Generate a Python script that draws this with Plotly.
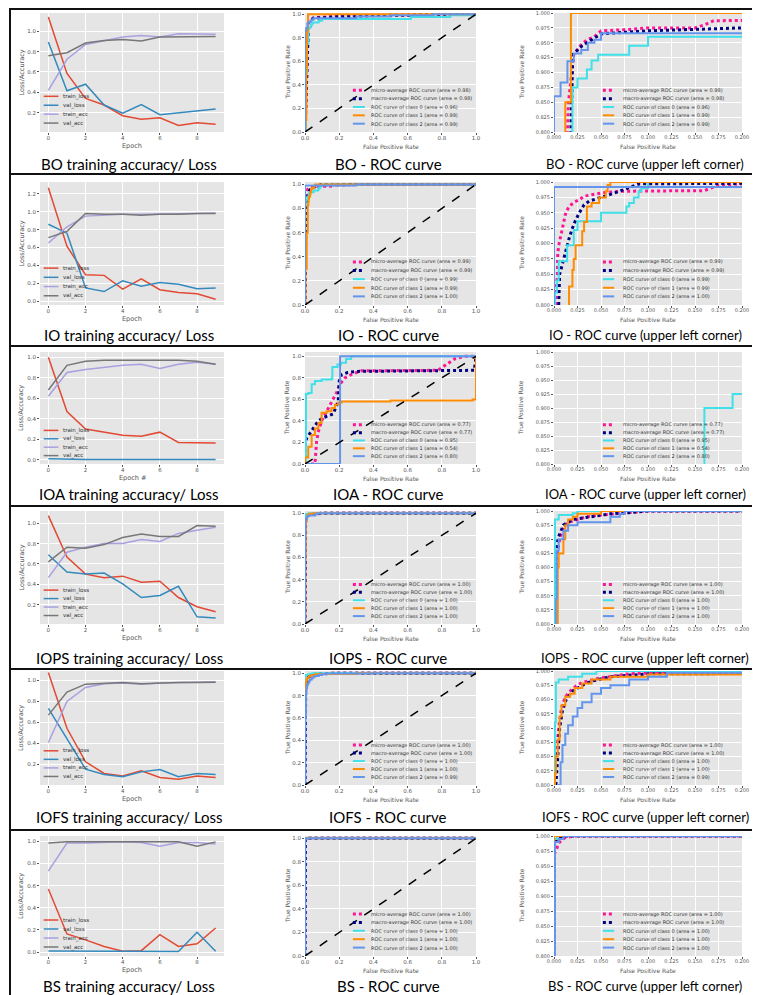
import plotly.graph_objects as go

W, H = 760, 995

# ---------------- data: training history ----------------
datasets = ["BO", "IO", "IOA", "IOPS", "IOFS", "BS"]
epochs = [0, 1, 2, 3, 4, 5, 6, 7, 8, 9]
epoch_ticks = [0, 2, 4, 6, 8]
history_names = ["train_loss", "val_loss", "train_acc", "val_acc"]
epoch_titles = ["Epoch", "Epoch", "Epoch #", "Epoch", "Epoch", "Epoch"]

bo_train_loss = [1.14, 0.585, 0.34, 0.275, 0.17, 0.135, 0.15, 0.075, 0.10, 0.085]
bo_val_loss = [0.895, 0.415, 0.48, 0.275, 0.195, 0.28, 0.18, 0.20, 0.215, 0.235]
bo_train_acc = [0.42, 0.725, 0.87, 0.91, 0.945, 0.96, 0.945, 0.975, 0.97, 0.97]
bo_val_acc = [0.76, 0.79, 0.885, 0.91, 0.92, 0.905, 0.945, 0.945, 0.945, 0.95]

io_train_loss = [1.267, 0.614, 0.297, 0.29, 0.137, 0.25, 0.13, 0.10, 0.085, 0.025]
io_val_loss = [0.86, 0.76, 0.15, 0.11, 0.23, 0.17, 0.21, 0.19, 0.14, 0.15]
io_train_acc = [0.65, 0.83, 0.95, 0.96, 0.97, 0.97, 0.97, 0.975, 0.98, 0.985]
io_val_acc = [0.71, 0.78, 0.98, 0.97, 0.97, 0.96, 0.97, 0.97, 0.98, 0.98]

ioa_train_loss = [1.0, 0.47, 0.30, 0.27, 0.24, 0.23, 0.27, 0.17, 0.17, 0.165]
ioa_val_loss = [0.01, 0.005, 0.005, 0.005, 0.005, 0.005, 0.005, 0.005, 0.005, 0.005]
ioa_train_acc = [0.62, 0.85, 0.88, 0.90, 0.92, 0.93, 0.89, 0.93, 0.95, 0.93]
ioa_val_acc = [0.68, 0.92, 0.96, 0.97, 0.97, 0.97, 0.97, 0.97, 0.96, 0.93]

iops_train_loss = [1.075, 0.667, 0.50, 0.465, 0.48, 0.42, 0.43, 0.27, 0.18, 0.13]
iops_val_loss = [0.69, 0.52, 0.50, 0.51, 0.405, 0.27, 0.29, 0.38, 0.08, 0.07]
iops_train_acc = [0.465, 0.715, 0.765, 0.80, 0.80, 0.84, 0.82, 0.90, 0.93, 0.96]
iops_val_acc = [0.62, 0.765, 0.755, 0.79, 0.86, 0.895, 0.87, 0.87, 0.977, 0.97]

iofs_train_loss = [1.076, 0.545, 0.226, 0.115, 0.09, 0.14, 0.076, 0.06, 0.09, 0.076]
iofs_val_loss = [0.735, 0.45, 0.156, 0.105, 0.083, 0.13, 0.153, 0.083, 0.115, 0.105]
iofs_train_acc = [0.41, 0.80, 0.933, 0.968, 0.975, 0.965, 0.975, 0.98, 0.984, 0.987]
iofs_val_acc = [0.67, 0.89, 0.965, 0.975, 0.98, 0.968, 0.975, 0.98, 0.98, 0.984]

bs_train_loss = [0.57, 0.163, 0.11, 0.05, 0.006, 0.012, 0.157, 0.05, 0.075, 0.217]
bs_val_loss = [0.01, 0.01, 0.005, 0.005, 0.005, 0.005, 0.005, 0.005, 0.178, 0.006]
bs_train_acc = [0.73, 0.985, 0.985, 0.99, 0.995, 0.99, 0.955, 0.99, 0.99, 0.975]
bs_val_acc = [0.985, 0.995, 0.995, 0.995, 0.995, 0.995, 0.995, 0.995, 0.955, 0.995]

# ---------------- data: ROC curves (fpr, tpr) ----------------
roc_names = ["micro-average ROC curve", "macro-average ROC curve",
             "ROC curve of class 0", "ROC curve of class 1", "ROC curve of class 2"]

bo_auc = [0.98, 0.98, 0.96, 0.99, 0.99]
bo_micro_fpr = [0, 0.005, 0.012, 0.0154, 0.017, 0.019, 0.021, 0.028, 0.035, 0.043, 0.05, 0.075, 0.1, 0.15, 0.16, 0.17, 0.4, 0.7, 1.0]
bo_micro_tpr = [0, 0.3, 0.7, 0.85, 0.875, 0.905, 0.93, 0.945, 0.955, 0.96, 0.97, 0.972, 0.975, 0.975, 0.98, 0.987, 0.99, 0.995, 1.0]
bo_macro_fpr = [0, 0.01, 0.018, 0.019, 0.02, 0.03, 0.04, 0.05, 0.1, 0.15, 0.2, 0.5, 1.0]
bo_macro_tpr = [0, 0.4, 0.8, 0.87, 0.93, 0.945, 0.955, 0.965, 0.97, 0.975, 0.98, 0.99, 1.0]
bo_c0_fpr = [0, 0.005, 0.012, 0.0196, 0.025, 0.035, 0.04, 0.047, 0.08, 0.1, 0.62, 0.85, 1.0]
bo_c0_tpr = [0, 0.5, 0.75, 0.875, 0.89, 0.905, 0.92, 0.93, 0.945, 0.96, 0.975, 0.99, 1.0]
bo_c1_fpr = [0, 0.003, 0.008, 0.012, 0.018, 1.0]
bo_c1_tpr = [0, 0.1, 0.55, 0.85, 1.0, 1.0]
bo_c2_fpr = [0, 0, 0.007, 0.0143, 0.021, 0.029, 0.036, 0.043, 0.05, 0.3, 0.5, 0.75, 1.0]
bo_c2_tpr = [0, 0.86, 0.883, 0.919, 0.932, 0.938, 0.95, 0.955, 0.966, 0.98, 0.99, 1.0, 1.0]

io_auc = [0.99, 0.99, 0.99, 0.99, 1.00]
io_micro_fpr = [0, 0.001, 0.0018, 0.0025, 0.0036, 0.004, 0.005, 0.007, 0.009, 0.011, 0.0125, 0.016, 0.021, 0.027, 0.032, 0.05, 0.07, 0.16, 0.175, 0.2, 0.4, 1.0]
io_micro_tpr = [0, 0.7, 0.807, 0.826, 0.85, 0.883, 0.897, 0.911, 0.925, 0.938, 0.95, 0.96, 0.967, 0.971, 0.977, 0.982, 0.985, 0.986, 0.995, 0.997, 1.0, 1.0]
io_macro_fpr = [0, 0.002, 0.004, 0.005, 0.006, 0.009, 0.0125, 0.016, 0.0196, 0.023, 0.027, 0.032, 0.0375, 0.045, 0.054, 0.0625, 0.073, 0.084, 0.091, 0.5, 1.0]
io_macro_tpr = [0, 0.5, 0.78, 0.8, 0.85, 0.867, 0.889, 0.908, 0.925, 0.938, 0.95, 0.963, 0.969, 0.973, 0.977, 0.981, 0.987, 0.993, 0.997, 1.0, 1.0]
io_c0_fpr = [0, 0, 0.001, 0.003, 0.005, 0.014, 0.021, 0.025, 0.05, 0.077, 0.08, 0.085, 0.09, 0.093, 0.1, 1.0]
io_c0_tpr = [0, 0.6, 0.82, 0.84, 0.871, 0.897, 0.922, 0.936, 0.95, 0.96, 0.966, 0.975, 0.985, 0.99, 1.0, 1.0]
io_c1_fpr = [0, 0.003, 0.01, 0.016, 0.0196, 0.021, 0.023, 0.03, 0.032, 0.035, 0.04, 0.048, 0.055, 0.057, 0.06, 1.0]
io_c1_tpr = [0, 0.3, 0.6, 0.83, 0.857, 0.875, 0.897, 0.92, 0.935, 0.96, 0.966, 0.975, 0.985, 0.995, 1.0, 1.0]
io_c2_fpr = [0, 0, 0.3, 1.0]
io_c2_tpr = [0, 0.992, 1.0, 1.0]

ioa_auc = [0.77, 0.77, 0.95, 0.54, 0.80]
ioa_micro_fpr = [0, 0.058, 0.068, 0.078, 0.097, 0.117, 0.146, 0.165, 0.184, 0.204, 0.233, 0.27, 0.33, 0.777, 0.835, 0.874, 0.93, 1.0]
ioa_micro_tpr = [0, 0.0, 0.21, 0.30, 0.40, 0.46, 0.55, 0.60, 0.66, 0.74, 0.80, 0.83, 0.865, 0.87, 0.93, 0.975, 1.0, 1.0]
ioa_macro_fpr = [0, 0, 0.01, 0.03, 0.05, 0.078, 0.107, 0.136, 0.165, 0.194, 0.2, 0.214, 0.25, 0.31, 0.99, 1.0]
ioa_macro_tpr = [0, 0.18, 0.24, 0.29, 0.33, 0.40, 0.43, 0.45, 0.465, 0.58, 0.77, 0.83, 0.85, 0.86, 0.87, 1.0]
ioa_c0_fpr = [0, 0.005, 0.006, 0.019, 0.039, 0.058, 0.097, 0.155, 0.16, 0.19, 0.21, 0.24, 0.27, 1.0]
ioa_c0_tpr = [0, 0.33, 0.65, 0.66, 0.74, 0.77, 0.785, 0.795, 0.9, 0.925, 0.94, 0.975, 1.0, 1.0]
ioa_c1_fpr = [0, 0, 0.019, 0.039, 0.058, 0.078, 0.097, 0.126, 0.155, 0.175, 0.194, 0.214, 0.5, 0.98, 1.0]
ioa_c1_tpr = [0, 0.06, 0.16, 0.27, 0.33, 0.38, 0.475, 0.49, 0.52, 0.55, 0.57, 0.58, 0.59, 0.6, 1.0]
ioa_c2_fpr = [0, 0.2, 0.205, 1.0]
ioa_c2_tpr = [0, 0.0, 1.0, 1.0]

iops_auc = [1.00, 1.00, 1.00, 1.00, 1.00]
iops_micro_fpr = [0, 0, 0.001, 0.002, 0.004, 0.006, 0.008, 0.01, 0.015, 0.025, 0.035, 0.05, 0.07, 0.1, 1.0]
iops_micro_tpr = [0, 0.8, 0.87, 0.9, 0.93, 0.95, 0.96, 0.97, 0.98, 0.985, 0.99, 0.993, 0.996, 1.0, 1.0]
iops_macro_fpr = [0, 0, 0.001, 0.003, 0.005, 0.01, 0.02, 0.04, 0.06, 0.08, 0.1, 1.0]
iops_macro_tpr = [0, 0.8, 0.9, 0.94, 0.955, 0.975, 0.985, 0.99, 0.995, 0.997, 1.0, 1.0]
iops_c0_fpr = [0, 0, 0.001, 0.005, 0.02, 0.025, 1.0]
iops_c0_tpr = [0, 0.85, 0.985, 0.993, 0.996, 1.0, 1.0]
iops_c1_fpr = [0, 0.002, 0.004, 0.005, 0.01, 0.012, 0.015, 0.02, 0.025, 0.05, 1.0]
iops_c1_tpr = [0, 0.6, 0.9, 0.925, 0.95, 0.975, 0.985, 0.99, 0.995, 1.0, 1.0]
iops_c2_fpr = [0, 0.001, 0.002, 0.003, 0.005, 0.01, 0.015, 0.025, 0.06, 0.07, 0.075, 1.0]
iops_c2_tpr = [0, 0.6, 0.845, 0.93, 0.95, 0.965, 0.975, 0.98, 0.99, 0.995, 1.0, 1.0]

iofs_auc = [1.00, 1.00, 1.00, 1.00, 0.99]
iofs_micro_fpr = [0, 0, 0.001, 0.003, 0.005, 0.008, 0.012, 0.02, 0.03, 0.05, 0.08, 0.12, 0.2, 1.0]
iofs_micro_tpr = [0, 0.6, 0.82, 0.86, 0.9, 0.935, 0.955, 0.97, 0.98, 0.988, 0.995, 0.998, 1.0, 1.0]
iofs_macro_fpr = [0, 0.001, 0.002, 0.004, 0.006, 0.009, 0.013, 0.02, 0.03, 0.04, 0.06, 0.1, 0.15, 0.2, 1.0]
iofs_macro_tpr = [0, 0.6, 0.8, 0.85, 0.9, 0.93, 0.95, 0.965, 0.975, 0.982, 0.99, 0.995, 0.998, 1.0, 1.0]
iofs_c0_fpr = [0, 0, 0.001, 0.002, 0.005, 0.015, 0.03, 0.045, 1.0]
iofs_c0_tpr = [0, 0.7, 0.91, 0.98, 0.985, 0.99, 0.995, 1.0, 1.0]
iofs_c1_fpr = [0, 0, 0.001, 0.002, 0.004, 0.006, 0.008, 0.012, 0.017, 0.022, 0.03, 0.04, 0.06, 0.1, 0.3, 1.0]
iofs_c1_tpr = [0, 0.6, 0.82, 0.85, 0.88, 0.92, 0.94, 0.955, 0.96, 0.97, 0.978, 0.985, 0.99, 0.994, 1.0, 1.0]
iofs_c2_fpr = [0, 0.002, 0.005, 0.007, 0.009, 0.012, 0.015, 0.02, 0.025, 0.03, 0.04, 0.05, 0.06, 0.08, 0.1, 0.12, 0.4, 1.0]
iofs_c2_tpr = [0, 0.6, 0.8, 0.84, 0.87, 0.89, 0.905, 0.92, 0.935, 0.945, 0.96, 0.97, 0.975, 0.985, 0.99, 0.997, 1.0, 1.0]

bs_auc = [1.00, 1.00, 1.00, 1.00, 1.00]
bs_micro_fpr = [0, 0, 0.002, 0.003, 0.005, 0.008, 0.012, 0.02, 1.0]
bs_micro_tpr = [0, 0.97, 0.975, 0.98, 0.988, 0.993, 0.997, 1.0, 1.0]
bs_macro_fpr = [0, 0, 0.002, 0.006, 0.01, 1.0]
bs_macro_tpr = [0, 0.985, 0.99, 0.997, 1.0, 1.0]
bs_c0_fpr = [0, 0, 0.003, 1.0]
bs_c0_tpr = [0, 0.995, 1.0, 1.0]
bs_c1_fpr = [0, 0, 1.0]
bs_c1_tpr = [0, 1.0, 1.0]
bs_c2_fpr = [0, 0.001, 0.005, 0.01, 1.0]
bs_c2_tpr = [0, 0.99, 0.995, 1.0, 1.0]

chance_fpr = [0, 1]
chance_tpr = [0, 1]

# tick labels
full_ticks = [0.0, 0.2, 0.4, 0.6, 0.8, 1.0]
zoom_xticks = [0.0, 0.025, 0.05, 0.075, 0.1, 0.125, 0.15, 0.175, 0.2]
zoom_yticks = [0.8, 0.825, 0.85, 0.875, 0.9, 0.925, 0.95, 0.975, 1.0]
hist_yticks = [0.0, 0.2, 0.4, 0.6, 0.8, 1.0, 1.2]

histories = {
    "BO": [bo_train_loss, bo_val_loss, bo_train_acc, bo_val_acc],
    "IO": [io_train_loss, io_val_loss, io_train_acc, io_val_acc],
    "IOA": [ioa_train_loss, ioa_val_loss, ioa_train_acc, ioa_val_acc],
    "IOPS": [iops_train_loss, iops_val_loss, iops_train_acc, iops_val_acc],
    "IOFS": [iofs_train_loss, iofs_val_loss, iofs_train_acc, iofs_val_acc],
    "BS": [bs_train_loss, bs_val_loss, bs_train_acc, bs_val_acc],
}
rocs = {
    "BO": (bo_auc, [(bo_micro_fpr, bo_micro_tpr), (bo_macro_fpr, bo_macro_tpr), (bo_c0_fpr, bo_c0_tpr), (bo_c1_fpr, bo_c1_tpr), (bo_c2_fpr, bo_c2_tpr)]),
    "IO": (io_auc, [(io_micro_fpr, io_micro_tpr), (io_macro_fpr, io_macro_tpr), (io_c0_fpr, io_c0_tpr), (io_c1_fpr, io_c1_tpr), (io_c2_fpr, io_c2_tpr)]),
    "IOA": (ioa_auc, [(ioa_micro_fpr, ioa_micro_tpr), (ioa_macro_fpr, ioa_macro_tpr), (ioa_c0_fpr, ioa_c0_tpr), (ioa_c1_fpr, ioa_c1_tpr), (ioa_c2_fpr, ioa_c2_tpr)]),
    "IOPS": (iops_auc, [(iops_micro_fpr, iops_micro_tpr), (iops_macro_fpr, iops_macro_tpr), (iops_c0_fpr, iops_c0_tpr), (iops_c1_fpr, iops_c1_tpr), (iops_c2_fpr, iops_c2_tpr)]),
    "IOFS": (iofs_auc, [(iofs_micro_fpr, iofs_micro_tpr), (iofs_macro_fpr, iofs_macro_tpr), (iofs_c0_fpr, iofs_c0_tpr), (iofs_c1_fpr, iofs_c1_tpr), (iofs_c2_fpr, iofs_c2_tpr)]),
    "BS": (bs_auc, [(bs_micro_fpr, bs_micro_tpr), (bs_macro_fpr, bs_macro_tpr), (bs_c0_fpr, bs_c0_tpr), (bs_c1_fpr, bs_c1_tpr), (bs_c2_fpr, bs_c2_tpr)]),
}

# ---------------- styling / layout geometry ----------------
hist_colors = ["#E24A33", "#348ABD", "#A9A0E0", "#777777"]
roc_styles = [("#FF1493", 3, "dot", "linear"), ("#000080", 3, "dot", "linear"),
              ("#3FE0E8", 2, "solid", "hv"), ("#FF8C00", 2, "solid", "hv"),
              ("#6495ED", 2, "solid", "hv")]

col_px = [(32, 216), (297, 468), (546, 734)]
row_px = [(5, 124), (174, 297), (344, 456), (503, 616), (663, 777), (828, 948)]
row_box = [(1, 166), (166, 338), (338, 498), (498, 661), (661, 822), (822, 993)]
caption_y = [156, 327, 486, 650, 809, 978]
caption_x = [121, 380, 637]
caption_size = [15, 15, 13]
hist_yrange = [[0.01, 1.18], [-0.04, 1.33], [-0.04, 1.05], [0.01, 1.12], [0.005, 1.09], [-0.036, 1.048]]
roc_ymax = [1.01, 1.02, 1.04, 1.02, 1.02, 1.02]

TICK_COLOR = "#555555"
BASE_FONT = "DejaVu Sans"

fig = go.Figure()
annotations = []
shapes = []
axes = {}


def base_axis(fs, is_x):
    d = dict(showgrid=True, gridcolor="white", gridwidth=1, zeroline=False,
             showline=False, ticks="outside", ticklen=2, tickwidth=1,
             tickcolor=TICK_COLOR, automargin=False, fixedrange=True,
             tickfont=dict(family=BASE_FONT, size=fs, color=TICK_COLOR))
    if is_x:
        d["ticklabelstandoff"] = -2
    return d


def legend(xr, yr, entries, sx0, sx1, tx, ys, fs):
    for (label, color, width, dash), yc in zip(entries, ys):
        shapes.append(dict(type="line", xref=f"{xr} domain", yref=f"{yr} domain",
                           x0=sx0, x1=sx1, y0=yc, y1=yc, layer="above",
                           line=dict(color=color, width=width, dash=dash)))
        annotations.append(dict(text=label, xref=f"{xr} domain", yref=f"{yr} domain",
                                x=tx, y=yc, xanchor="left", yanchor="middle",
                                showarrow=False,
                                font=dict(family=BASE_FONT, size=fs, color="#333333")))


def axis_title(text, xpx, ypx, angle, fs):
    annotations.append(dict(text=text, xref="paper", yref="paper", x=xpx / W,
                            y=1 - ypx / H, xanchor="center", yanchor="middle",
                            textangle=angle, showarrow=False,
                            font=dict(family=BASE_FONT, size=fs, color=TICK_COLOR)))


for r, name in enumerate(datasets):
    y0p, y1p = row_px[r]
    ymid = (y0p + y1p) / 2
    for c in range(3):
        idx = r * 3 + c + 1
        xa = "xaxis" if idx == 1 else f"xaxis{idx}"
        ya = "yaxis" if idx == 1 else f"yaxis{idx}"
        xr = "x" if idx == 1 else f"x{idx}"
        yr = "y" if idx == 1 else f"y{idx}"
        x0p, x1p = col_px[c]
        xmid = (x0p + x1p) / 2
        xd = [x0p / W, x1p / W]
        yd = [1 - y1p / H, 1 - y0p / H]

        if c == 0:
            xax = base_axis(5.5, True)
            xax.update(domain=xd, anchor=yr, range=[-0.45, 9.45], tickvals=epoch_ticks)
            yax = base_axis(5.5, False)
            yax.update(domain=yd, anchor=xr, range=hist_yrange[r], tickvals=hist_yticks,
                       tickformat=".1f")
            for vals, nm, col in zip(histories[name], history_names, hist_colors):
                fig.add_trace(go.Scatter(x=epochs, y=vals, mode="lines", name=nm,
                                         line=dict(color=col, width=1.5),
                                         xaxis=xr, yaxis=yr, showlegend=False))
            legend(xr, yr, [(nm, col, 1.5, "solid") for nm, col in zip(history_names, hist_colors)],
                   0.02, 0.1, 0.115, [0.30, 0.225, 0.15, 0.075], 5.5)
            axis_title("Loss/Accuracy", 13, ymid, -90, 6.5)
            axis_title(epoch_titles[r], xmid, y1p + 14, 0, 6.5)
            cap = f"{name} training accuracy/ Loss"
        else:
            auc, curves = rocs[name]
            xax = base_axis(5.5 if c == 1 else 5, True)
            yax = base_axis(5.5 if c == 1 else 5, False)
            if c == 1:
                xax.update(domain=xd, anchor=yr, range=[0, 1.0], tickvals=full_ticks, tickformat=".1f")
                yax.update(domain=yd, anchor=xr, range=[0, roc_ymax[r]], tickvals=full_ticks, tickformat=".1f")
            else:
                xax.update(domain=xd, anchor=yr, range=[0, 0.2], tickvals=zoom_xticks, tickformat=".3f")
                yax.update(domain=yd, anchor=xr, range=[0.8, 1.0], tickvals=zoom_yticks, tickformat=".3f")
            labels = [f"{nm} (area = {a:.2f})" for nm, a in zip(roc_names, auc)]
            for (fpr, tpr), (col, lw, dash, shp), lab in zip(curves, roc_styles, labels):
                fig.add_trace(go.Scatter(x=fpr, y=tpr, mode="lines", name=lab,
                                         line=dict(color=col, width=lw, dash=dash, shape=shp),
                                         xaxis=xr, yaxis=yr, showlegend=False))
            fig.add_trace(go.Scatter(x=chance_fpr, y=chance_tpr, mode="lines",
                                     line=dict(color="black", width=1.5, dash="dash"),
                                     xaxis=xr, yaxis=yr, showlegend=False))
            entries = [(lab, st[0], st[1], st[2]) for lab, st in zip(labels, roc_styles)]
            if c == 1:
                legend(xr, yr, entries, 0.28, 0.35, 0.375, [0.35, 0.28, 0.21, 0.14, 0.07], 5)
                axis_title("True Positive Rate", 279, ymid, -90, 6)
                axis_title("False Positive Rate", xmid, y1p + 14, 0, 6)
                cap = f"{name} - ROC curve"
            else:
                legend(xr, yr, entries, 0.26, 0.32, 0.355, [0.35, 0.28, 0.21, 0.14, 0.07], 5)
                axis_title("True Positive Rate", 513, ymid, -90, 6)
                axis_title("False Positive Rate", xmid, y1p + 14, 0, 6)
                cap = f"{name} - ROC curve (upper left corner)"
        axes[xa] = xax
        axes[ya] = yax
        annotations.append(dict(text=cap, xref="paper", yref="paper",
                                x=caption_x[c] / W, y=1 - caption_y[r] / H,
                                xanchor="center", yanchor="middle", showarrow=False,
                                font=dict(family="Lato", size=caption_size[c], color="black")))

    bt, bb = row_box[r]
    shapes.append(dict(type="rect", xref="paper", yref="paper", x0=2 / W, x1=757 / W,
                       y0=1 - bb / H, y1=1 - bt / H, line=dict(color="#111111", width=2),
                       fillcolor="rgba(0,0,0,0)", layer="above"))

fig.update_layout(width=W, height=H, margin=dict(l=0, r=0, t=0, b=0),
                  paper_bgcolor="white", plot_bgcolor="#E5E5E5",
                  showlegend=False, annotations=annotations, shapes=shapes, **axes)

fig.write_html("out.html")
